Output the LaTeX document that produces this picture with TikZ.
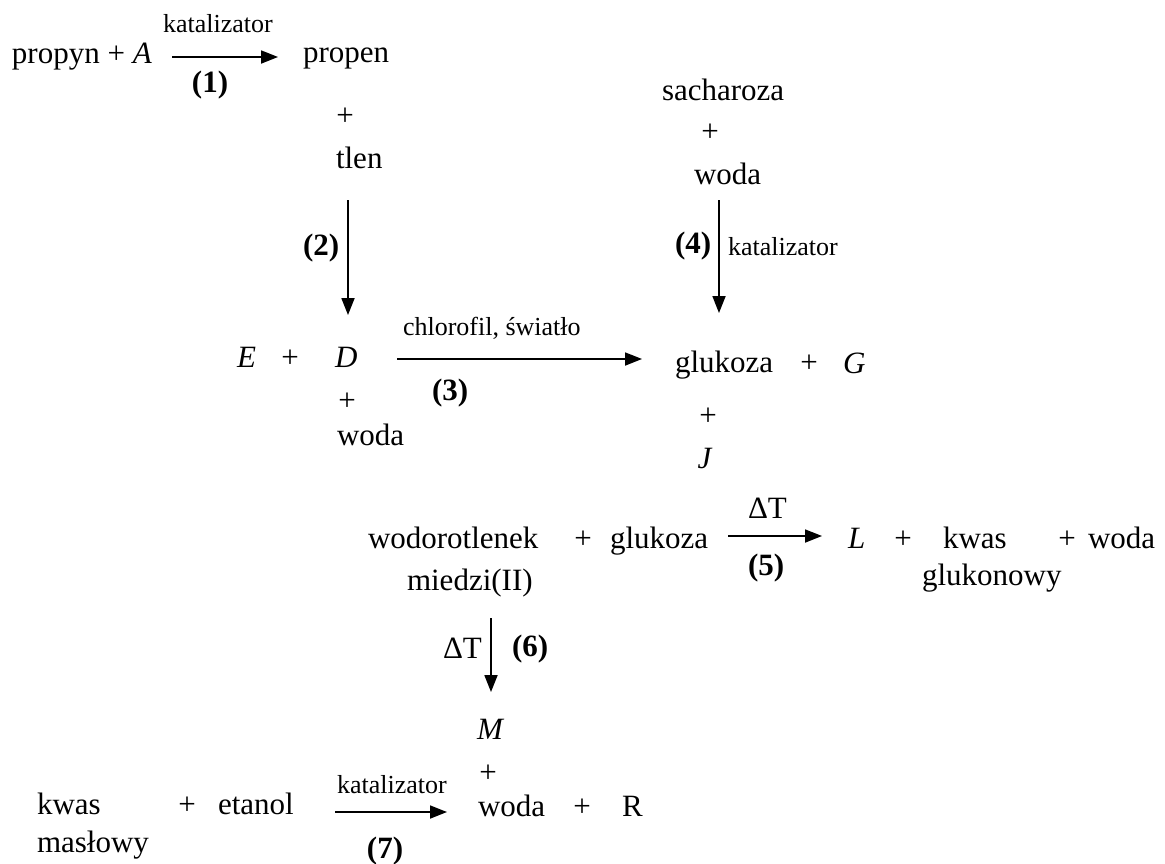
\documentclass[tikz,border=0pt]{standalone}
\usepackage{fontspec}
\setmainfont{Liberation Serif}
\usetikzlibrary{arrows.meta}
\tikzset{
  txt/.style={inner sep=0pt,outer sep=0pt,anchor=base west,font=\fontsize{31}{31}\selectfont},
  txc/.style={txt,anchor=base},
  sml/.style={inner sep=0pt,outer sep=0pt,anchor=base west,font=\fontsize{26}{26}\selectfont},
  bld/.style={inner sep=0pt,outer sep=0pt,anchor=base west,font=\fontsize{31}{31}\selectfont\bfseries},
  arr/.style={line width=1.8pt,-{Triangle[length=17pt,width=13pt]}}
}
\begin{document}
\begin{tikzpicture}[x=1pt,y=-1pt]
\useasboundingbox (0,0) rectangle (1165,863);
% row 1
\node[txt] (propyn) at (12,63) {propyn + \textit{A}};
\node[sml] (kat1) at (163,32) {katalizator};
\coordinate (a1s) at (172,57);
\coordinate (a1e) at (278,57);
\draw[arr] (a1s) -- (a1e);
\node[bld,anchor=base] (n1) at (210,92) {(1)};
\node[txt] (propen) at (303,62) {propen};
\node[txc] (p1) at (345,125) {+};
\node[txt] (tlen) at (336,168) {tlen};
\coordinate (a2s) at (348,200);
\coordinate (a2e) at (348,315);
\draw[arr] (a2s) -- (a2e);
\node[bld] (n2) at (303,255) {(2)};
% right column
\node[txt] (sach) at (662,100) {sacharoza};
\node[txc] (p2) at (710,141) {+};
\node[txt] (woda1) at (694,184) {woda};
\coordinate (a4s) at (719,200);
\coordinate (a4e) at (719,313);
\draw[arr] (a4s) -- (a4e);
\node[bld] (n4) at (675,253) {(4)};
\node[sml] (kat4) at (728,255) {katalizator};
% row 3
\node[txt] (E) at (237,367) {\textit{E}};
\node[txc] (p3) at (290,367) {+};
\node[txt] (D) at (335,367) {\textit{D}};
\node[txc] (p4) at (347,410) {+};
\node[txt] (woda2) at (337,445) {woda};
\node[sml] (chl) at (403,335) {chlorofil, światło};
\coordinate (a3s) at (397,359);
\coordinate (a3e) at (642,359);
\draw[arr] (a3s) -- (a3e);
\node[bld] (n3) at (432,400) {(3)};
\node[txt] (gluk1) at (675,372) {glukoza};
\node[txc] (p5) at (809,372) {+};
\node[txt] (G) at (843,373) {\textit{G}};
\node[txc] (p6) at (708,425) {+};
\node[txc] (J) at (705,468) {\textit{J}};
% row 5
\node[txt] (wodor) at (368,548) {wodorotlenek};
\node[txt] (miedz) at (407,590) {miedzi(II)};
\node[txc] (p7) at (583,548) {+};
\node[txt] (gluk2) at (610,548) {glukoza};
\node[txt] (dT5) at (748,518) {ΔT};
\coordinate (a5s) at (728,536);
\coordinate (a5e) at (822,536);
\draw[arr] (a5s) -- (a5e);
\node[bld] (n5) at (748,575) {(5)};
\node[txt] (L) at (848,548) {\textit{L}};
\node[txc] (p8) at (903,548) {+};
\node[txt] (kwas1) at (943,548) {kwas};
\node[txc] (p9) at (1067,548) {+};
\node[txt] (woda3) at (1088,548) {woda};
\node[txt] (glukon) at (922,585) {glukonowy};
% row 6
\coordinate (a6s) at (491,618);
\coordinate (a6e) at (491,692);
\draw[arr] (a6s) -- (a6e);
\node[txt] (dT6) at (443,658) {ΔT};
\node[bld] (n6) at (512,656) {(6)};
\node[txt] (M) at (477,739) {\textit{M}};
\node[txc] (p10) at (488,782) {+};
\node[txt] (woda4) at (478,816) {woda};
\node[txc] (p11) at (582,816) {+};
\node[txt] (R) at (622,816) {R};
% row 7
\node[txt] (kwas2) at (37,814) {kwas};
\node[txt] (masl) at (37,852) {masłowy};
\node[txc] (p12) at (187,814) {+};
\node[txt] (etanol) at (218,814) {etanol};
\node[sml] (kat7) at (337,793) {katalizator};
\coordinate (a7s) at (335,812);
\coordinate (a7e) at (447,812);
\draw[arr] (a7s) -- (a7e);
\node[bld,anchor=base] (n7) at (385,858) {(7)};
\end{tikzpicture}
\end{document}
